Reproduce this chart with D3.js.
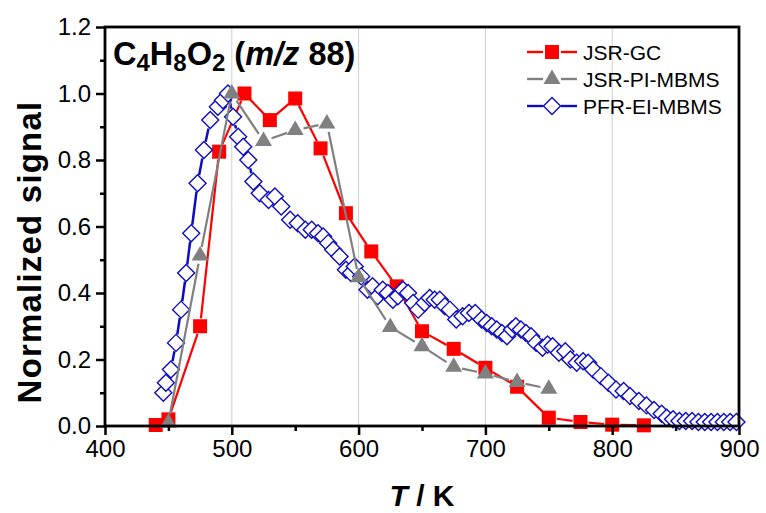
<!DOCTYPE html>
<html><head><meta charset="utf-8">
<script src="https://cdn.jsdelivr.net/npm/d3@7"></script>
<style>body{margin:0;background:#fff}svg{display:block;font-family:Arial,"Liberation Sans",sans-serif}</style>
</head><body><svg id="c" width="766" height="513"></svg>
<script>
const xTicks = [400,500,600,700,800,900];
const yTicks = [0.0,0.2,0.4,0.6,0.8,1.0,1.2];
const gridX = [500,600,700,800];

const gcT = [440,450,475,490,510,530,550,570,590,610,630,650,675,700,725,750,775,800,825];
const gcV = [0.003,0.02,0.30,0.825,1.0,0.92,0.985,0.835,0.64,0.525,0.42,0.285,0.232,0.175,0.118,0.025,0.012,0.004,0.002];

const piT = [450,475,500,525,550,575,600,625,650,675,700,725,750];
const piV = [0.01,0.513,1.0,0.857,0.89,0.91,0.447,0.298,0.24,0.178,0.158,0.132,0.112];

const eiT = [446,448,452,456,460,464,468,473,478,483,489,493,497,501,505,509,513,517,522,529,534,539,546,552,558,563,568,572,576,580,585,590,594,597,602,607,611,615,619,623,627,631,635,639,643,647,652,656,660,664,668,672,677,682,687,692,697,701,705,709,713,717,721,724,728,732,736,740,745,749,753,758,763,767,772,777,781,785,791,797,803,809,814,821,827,833,839,843,848,853,858,863,868,873,878,883,888,893,898];
const eiV = [0.10,0.13,0.17,0.25,0.35,0.46,0.58,0.73,0.83,0.92,0.96,0.98,1.00,0.93,0.87,0.84,0.80,0.735,0.70,0.68,0.69,0.66,0.62,0.61,0.59,0.59,0.58,0.57,0.55,0.53,0.51,0.47,0.46,0.48,0.45,0.41,0.42,0.39,0.41,0.40,0.38,0.39,0.41,0.40,0.37,0.35,0.37,0.385,0.38,0.38,0.36,0.35,0.32,0.33,0.34,0.34,0.32,0.31,0.30,0.29,0.28,0.27,0.29,0.30,0.29,0.28,0.27,0.25,0.235,0.245,0.24,0.22,0.225,0.20,0.19,0.195,0.19,0.17,0.15,0.13,0.11,0.105,0.09,0.075,0.062,0.048,0.037,0.025,0.02,0.015,0.015,0.015,0.012,0.012,0.012,0.012,0.012,0.012,0.012];

const legendNames = ["JSR-GC","JSR-PI-MBMS","PFR-EI-MBMS"];

const svg = d3.select("#c");
const L=105,R=739,T=27,B=426;
const x = d3.scaleLinear().domain([400,900]).range([L,R]);
const y = d3.scaleLinear().domain([0,1.2]).range([B,T]);

svg.append("g").selectAll("line").data(gridX).join("line")
  .attr("x1",d=>x(d)).attr("x2",d=>x(d)).attr("y1",T).attr("y2",B)
  .attr("stroke","#cfcfcf").attr("stroke-width",1);

const colors = {gc:"#ff0000", pi:"#808080", ei:"#0c0cc0"};
const DS = 8.5;
const diamondPath = `M0,${-DS}L${DS},0L0,${DS}L${-DS},0Z`;

function gapLine(g, xs, ys, color, gap, w){
  const pts = xs.map((t,i)=>[x(t),y(ys[i])]);
  for(let i=0;i<pts.length-1;i++){
    const [x1,y1]=pts[i],[x2,y2]=pts[i+1];
    const dx=x2-x1, dy=y2-y1, len=Math.hypot(dx,dy);
    if(len<=2*gap) continue;
    const ux=dx/len, uy=dy/len;
    g.append("line").attr("x1",x1+ux*gap).attr("y1",y1+uy*gap)
      .attr("x2",x2-ux*gap).attr("y2",y2-uy*gap)
      .attr("stroke",color).attr("stroke-width",w);
  }
}

const plot = svg.append("g");
const gGC = plot.append("g");
gapLine(gGC, gcT, gcV, colors.gc, 8, 2.2);
gGC.selectAll("rect").data(gcT).join("rect")
  .attr("x",(d)=>x(d)-7).attr("y",(d,i)=>y(gcV[i])-7).attr("width",14).attr("height",14)
  .attr("fill",colors.gc);
const gEI = plot.append("g");
gapLine(gEI, eiT, eiV, colors.ei, DS, 2.5);
gEI.selectAll("path").data(eiT).join("path")
  .attr("d", diamondPath)
  .attr("transform",(d,i)=>`translate(${x(d)},${y(eiV[i])})`)
  .attr("fill","#fff").attr("stroke",colors.ei).attr("stroke-width",1.4);
const gPI = plot.append("g");
gapLine(gPI, piT, piV, colors.pi, 8.5, 2.2);
gPI.selectAll("path").data(piT).join("path")
  .attr("d","M0,-9.5L8.5,5L-8.5,5Z")
  .attr("transform",(d,i)=>`translate(${x(d)},${y(piV[i])})`)
  .attr("fill",colors.pi);

svg.append("g").attr("transform",`translate(0,${B})`)
  .call(d3.axisBottom(x).tickValues(xTicks).tickFormat(d3.format("d")).tickSize(9).tickPadding(5));
svg.append("g").attr("transform",`translate(${L},0)`)
  .call(d3.axisLeft(y).tickValues(yTicks).tickFormat(d3.format(".1f")).tickSize(9).tickPadding(5));
svg.append("g").attr("transform",`translate(0,${B})`)
  .call(d3.axisBottom(x).tickValues(d3.range(450,900,100)).tickFormat("").tickSize(5))
  .call(g=>g.select(".domain").remove());
svg.append("g").attr("transform",`translate(${L},0)`)
  .call(d3.axisLeft(y).tickValues(d3.range(0.1,1.2,0.2)).tickFormat("").tickSize(5))
  .call(g=>g.select(".domain").remove());
svg.selectAll(".tick line").attr("stroke","#000").attr("stroke-width",2.5);
svg.selectAll(".tick text").attr("font-size",24).attr("fill","#000").attr("font-family","Arial, 'Liberation Sans', sans-serif");
svg.append("rect").attr("x",L).attr("y",T).attr("width",R-L).attr("height",B-T)
  .attr("fill","none").attr("stroke","#000").attr("stroke-width",2.8);
svg.selectAll(".domain").attr("stroke","none");

svg.append("text").attr("transform",`translate(41,252) rotate(-90)`)
  .attr("text-anchor","middle").attr("font-size",33).attr("font-weight","bold")
  .attr("letter-spacing",1.2).text("Normalized signal");
const xt = svg.append("text").attr("x",(L+R)/2).attr("y",506).attr("text-anchor","middle")
  .attr("font-size",30).attr("font-weight","bold");
xt.append("tspan").attr("font-style","italic").text("T");
xt.append("tspan").text(" / K");

const tt = svg.append("text").attr("x",113).attr("y",65).attr("font-size",32.5).attr("font-weight","bold");
const parts=[["C",0],["4",1],["H",0],["8",1],["O",0],["2",1],[" (",0],["m/z",2],[" 88)",0]];
parts.forEach(([s,k],i)=>{
  const sp = tt.append("tspan").text(s);
  if(k===1) sp.attr("font-size",24).attr("dy",6);
  else if(k===2) sp.attr("font-style","italic");
  if(i>0 && k!==1 && parts[i-1][1]===1) sp.attr("dy",-6);
});

const lg = svg.append("g");
const ly = [52,79,106];
legendNames.forEach((n,i)=>{
  const yy = ly[i];
  const c = [colors.gc,colors.pi,colors.ei][i];
  lg.append("line").attr("x1",527).attr("x2",543).attr("y1",yy).attr("y2",yy).attr("stroke",c).attr("stroke-width",2.4);
  lg.append("line").attr("x1",561).attr("x2",577).attr("y1",yy).attr("y2",yy).attr("stroke",c).attr("stroke-width",2.4);
  if(i===0) lg.append("rect").attr("x",545).attr("y",yy-7).attr("width",14).attr("height",14).attr("fill",c);
  if(i===1) lg.append("path").attr("d","M0,-9.5L8.5,5L-8.5,5Z").attr("transform",`translate(552,${yy})`).attr("fill",c);
  if(i===2) lg.append("path").attr("d",diamondPath).attr("transform",`translate(552,${yy})`).attr("fill","#fff").attr("stroke",c).attr("stroke-width",1.4);
  lg.append("text").attr("x",583).attr("y",yy+7.5).attr("font-size",21).text(n);
});
</script></body></html>
